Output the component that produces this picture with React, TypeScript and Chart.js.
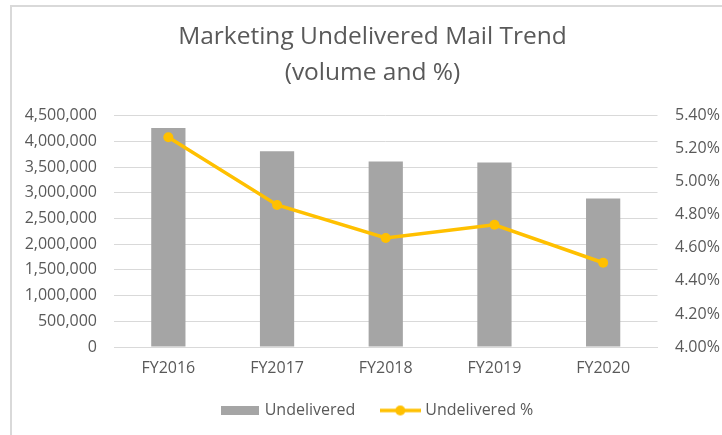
import React, { useEffect, useRef } from "react";
import { Chart, registerables } from "chart.js";

Chart.register(...registerables);

const titleLines = ["Marketing Undelivered Mail Trend", "(volume and %)"];
const categories = ["FY2016", "FY2017", "FY2018", "FY2019", "FY2020"];
const undelivered = [4260000, 3810000, 3610000, 3590000, 2890000];
const undeliveredPct = [5.27, 4.86, 4.66, 4.74, 4.51];
const seriesNames = ["Undelivered", "Undelivered %"];
const leftMin = 0;
const leftMax = 4500000;
const leftStep = 500000;
const rightMin = 4.0;
const rightMax = 5.4;
const rightStep = 0.2;

const TEXT = "#595959";
const GRID = "#d9d9d9";
const BAR = "#a5a5a5";
const LINE = "#ffc000";
const FONT = "'Open Sans', sans-serif";
const CW = 745;
const CH = 435;

function makeBarIcon(): HTMLCanvasElement {
  const c = document.createElement("canvas");
  c.width = 38;
  c.height = 9;
  const ctx = c.getContext("2d")!;
  ctx.fillStyle = BAR;
  ctx.fillRect(0, 0, 38, 9);
  return c;
}

function makeLineIcon(): HTMLCanvasElement {
  const c = document.createElement("canvas");
  c.width = 41;
  c.height = 12;
  const ctx = c.getContext("2d")!;
  ctx.strokeStyle = LINE;
  ctx.lineWidth = 3.5;
  ctx.beginPath();
  ctx.moveTo(0, 6);
  ctx.lineTo(41, 6);
  ctx.stroke();
  ctx.fillStyle = LINE;
  ctx.beginPath();
  ctx.arc(20.5, 6, 5, 0, Math.PI * 2);
  ctx.fill();
  return c;
}

const legendShift = {
  id: "legendShift",
  afterLayout(chart: any) {
    if (chart.legend) {
      chart.legend.left += 11;
    }
  },
};

export default function App() {
  const ref = useRef<HTMLCanvasElement | null>(null);

  useEffect(() => {
    if (!ref.current) return;
    const icons = [makeBarIcon(), makeLineIcon()];
    const chart = new Chart(ref.current, {
      type: "bar",
      plugins: [legendShift],
      data: {
        labels: categories,
        datasets: [
          {
            type: "line",
            label: seriesNames[1],
            data: undeliveredPct,
            yAxisID: "y1",
            borderColor: LINE,
            backgroundColor: LINE,
            borderWidth: 3.5,
            pointRadius: 5,
            pointBorderWidth: 0,
            pointBackgroundColor: LINE,
            tension: 0,
            order: 0,
          } as any,
          {
            type: "bar",
            label: seriesNames[0],
            data: undelivered,
            yAxisID: "y",
            backgroundColor: BAR,
            borderWidth: 0,
            barPercentage: 0.315,
            categoryPercentage: 1,
            order: 1,
          },
        ],
      },
      options: {
        responsive: false,
        animation: false,
        devicePixelRatio: 1,
        layout: { padding: { top: 0, left: 0, right: 0, bottom: 6.5 } },
        plugins: {
          title: {
            display: true,
            text: titleLines,
            color: TEXT,
            font: { family: FONT, size: 24.5, weight: "normal", lineHeight: 36 / 24.5 },
            padding: { top: 19.2, bottom: 24.5 },
          },
          legend: {
            position: "bottom",
            labels: {
              color: TEXT,
              font: { family: FONT, size: 16 },
              padding: 28,
              usePointStyle: true,
              pointStyleWidth: 34,
              generateLabels: () =>
                [0, 1].map((i) => ({
                  text: seriesNames[i],
                  fillStyle: i === 0 ? BAR : LINE,
                  strokeStyle: i === 0 ? BAR : LINE,
                  lineWidth: 0,
                  hidden: false,
                  pointStyle: icons[i],
                  datasetIndex: i === 0 ? 1 : 0,
                  fontColor: TEXT,
                })) as any,
            },
          },
          tooltip: { enabled: false },
        },
        scales: {
          x: {
            grid: { display: false, drawTicks: false },
            border: { display: true, color: GRID },
            ticks: { color: TEXT, font: { family: FONT, size: 16 }, padding: 11.5 },
            afterFit: (s: any) => {
              s.height = 27.5;
            },
          },
          y: {
            position: "left",
            min: leftMin,
            max: leftMax,
            ticks: {
              stepSize: leftStep,
              color: TEXT,
              font: { family: FONT, size: 16 },
              padding: 17,
              callback: (v: any) => Number(v).toLocaleString("en-US"),
            },
            grid: { color: GRID, lineWidth: 1, drawTicks: false },
            border: { display: false },
            afterFit: (s: any) => {
              s.width = 114;
            },
          },
          y1: {
            position: "right",
            min: rightMin,
            max: rightMax,
            ticks: {
              stepSize: rightStep,
              color: TEXT,
              font: { family: FONT, size: 16 },
              padding: 17.5,
              callback: (v: any) => Number(v).toFixed(2) + "%",
            },
            grid: { display: false, drawTicks: false },
            border: { display: false },
            afterFit: (s: any) => {
              s.width = CW - 657.5;
            },
          },
        },
      },
    });
    return () => chart.destroy();
  }, []);

  return (
    <div
      style={{
        position: "fixed",
        left: 0,
        top: 0,
        width: 722,
        height: 435,
        overflow: "hidden",
        background: "#ffffff",
      }}
    >
      <div
        style={{
          position: "absolute",
          left: 10,
          top: 5,
          width: 800,
          height: 500,
          borderLeft: "2px solid #d9d9d9",
          borderTop: "2px solid #d9d9d9",
        }}
      />
      <canvas
        ref={ref}
        width={CW}
        height={CH}
        style={{ position: "absolute", left: 0, top: 0 }}
      />
    </div>
  );
}
